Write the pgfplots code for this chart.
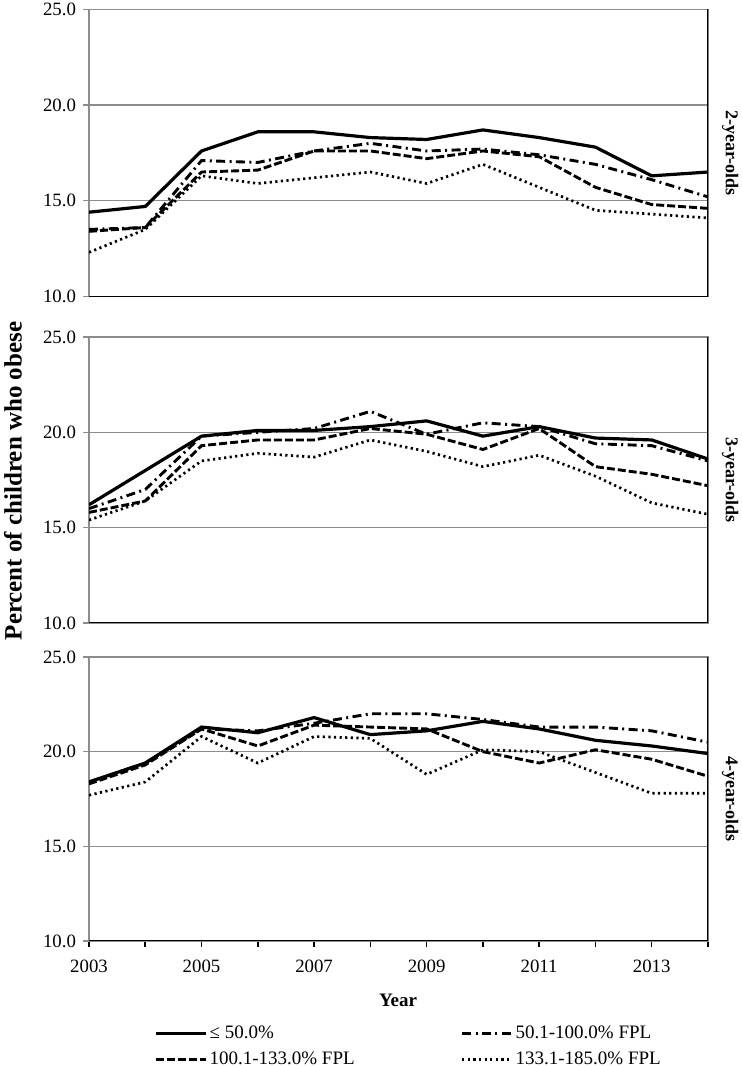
\documentclass[border=0pt]{standalone}
\usepackage{fontspec}
\setmainfont{Liberation Serif}
\usepackage{pgfplots}
\usepackage{pgfplotstable}
\pgfplotsset{compat=1.18}

\pgfplotstableread{
year a b c d
2003 14.4 13.5 13.4 12.3
2004 14.7 13.6 13.6 13.5
2005 17.6 17.1 16.5 16.3
2006 18.6 17.0 16.6 15.9
2007 18.6 17.6 17.6 16.2
2008 18.3 18.0 17.6 16.5
2009 18.2 17.6 17.2 15.9
2010 18.7 17.7 17.6 16.9
2011 18.3 17.4 17.3 15.7
2012 17.8 16.9 15.7 14.5
2013 16.3 16.1 14.8 14.3
2014 16.5 15.2 14.6 14.1
}\twoyr

\pgfplotstableread{
year a b c d
2003 16.2 16.0 15.8 15.4
2004 18.0 17.0 16.4 16.4
2005 19.8 19.8 19.3 18.5
2006 20.1 20.0 19.6 18.9
2007 20.1 20.2 19.6 18.7
2008 20.3 21.1 20.2 19.6
2009 20.6 19.9 19.9 19.0
2010 19.8 20.5 19.1 18.2
2011 20.3 20.3 20.2 18.8
2012 19.7 19.4 18.2 17.7
2013 19.6 19.3 17.8 16.3
2014 18.6 18.5 17.2 15.7
}\threeyr

\pgfplotstableread{
year a b c d
2003 18.4 18.4 18.3 17.7
2004 19.4 19.4 19.3 18.4
2005 21.3 21.2 21.2 20.8
2006 21.0 21.1 20.3 19.4
2007 21.8 21.5 21.4 20.8
2008 20.9 22.0 21.3 20.7
2009 21.1 22.0 21.2 18.8
2010 21.6 21.7 20.0 20.1
2011 21.2 21.3 19.4 20.0
2012 20.6 21.3 20.1 18.9
2013 20.3 21.1 19.6 17.8
2014 19.9 20.5 18.7 17.8
}\fouryr

\definecolor{gridgray}{HTML}{8C8C8C}

\tikzset{
  s1/.style={black, line width=1.6pt},
  s2/.style={black, line width=1.45pt, dash pattern=on 4.5pt off 2.2pt on 1pt off 2.2pt},
  s3/.style={black, line width=1.45pt, dash pattern=on 4pt off 1.5pt},
  s4/.style={black, line width=1.35pt, dash pattern=on 1.1pt off 1.7pt},
  sidelab/.style={rotate=-90, anchor=south, inner sep=0pt, outer sep=7pt,
    font=\bfseries\fontsize{9}{11}\selectfont},
}

\pgfplotsset{
  panel/.style={
    scale only axis, width=309.5pt,
    xmin=2003, xmax=2014, ymin=10, ymax=25,
    ytick={10,15,20,25},
    ymajorgrids, grid style={gridgray, line width=0.7pt},
    ytick pos=left, xtick pos=bottom,
    tick align=outside, major tick length=3pt,
    y tick style={gridgray, line width=0.7pt},
    x tick style={black, line width=0.8pt},
    axis line style={gridgray, line width=0.7pt},
    yticklabel style={/pgf/number format/fixed, /pgf/number format/fixed zerofill,
      /pgf/number format/precision=1, /pgf/number format/assume math mode=true,
      font=\fontsize{9.4}{11}\selectfont},
    xticklabel style={/pgf/number format/set thousands separator={},
      /pgf/number format/assume math mode=true, yshift=-3pt,
      font=\fontsize{9.4}{11}\selectfont},
    legend image code/.code={\draw[##1] (0pt,0pt) -- (25pt,0pt);},
  },
}

\newcommand{\frameBR}{\draw[black, line width=0.8pt] (rel axis cs:0,0) -- (rel axis cs:1,0) -- (rel axis cs:1,1);}

\begin{document}
\begin{tikzpicture}
\path[use as bounding box] (0,0) rectangle (371pt,533pt);

% 2-year-olds
\begin{axis}[panel, height=143.5pt, at={(44.5pt,384.8pt)}, anchor=south west, xtick=\empty]
\addplot[s1] table[x=year,y=a] {\twoyr};
\addplot[s2] table[x=year,y=b] {\twoyr};
\addplot[s3] table[x=year,y=c] {\twoyr};
\addplot[s4] table[x=year,y=d] {\twoyr};
\frameBR
\end{axis}
\node[sidelab] at (354pt,456.5pt) {2-year-olds};

% 3-year-olds
\begin{axis}[panel, height=143pt, at={(44.5pt,221.5pt)}, anchor=south west, xtick=\empty]
\addplot[s1] table[x=year,y=a] {\threeyr};
\addplot[s2] table[x=year,y=b] {\threeyr};
\addplot[s3] table[x=year,y=c] {\threeyr};
\addplot[s4] table[x=year,y=d] {\threeyr};
\frameBR
\end{axis}
\node[sidelab] at (354pt,293pt) {3-year-olds};

% 4-year-olds
\begin{axis}[panel, height=142pt, at={(44.5pt,62.5pt)}, anchor=south west,
  xtick={2003,2004,...,2014},
  xticklabels={2003,,2005,,2007,,2009,,2011,,2013,},
  legend columns=2,
  legend cell align=left,
  legend style={at={(axis description cs:0.105,-0.285)}, anchor=north west,
    draw=none, fill=none, inner sep=0pt, row sep=2pt,
    font=\fontsize{9.5}{11}\selectfont,
    nodes={inner sep=1pt, text height=7pt, text depth=2pt},
    /tikz/column 2/.style={column sep=52pt}},
]
\addplot[s1] table[x=year,y=a] {\fouryr};
\addlegendentry{≤ 50.0\%}
\addplot[s2] table[x=year,y=b] {\fouryr};
\addlegendentry{50.1-100.0\% FPL}
\addplot[s3] table[x=year,y=c] {\fouryr};
\addlegendentry{100.1-133.0\% FPL}
\addplot[s4] table[x=year,y=d] {\fouryr};
\addlegendentry{133.1-185.0\% FPL}
\frameBR
\end{axis}
\node[sidelab] at (354pt,133.5pt) {4-year-olds};

\node[font=\bfseries\fontsize{9.5}{11}\selectfont] at (199pt,33pt) {Year};
\node[rotate=90, font=\bfseries\fontsize{12.5}{14}\selectfont] at (6.5pt,292.5pt) {Percent of children who obese};
\end{tikzpicture}
\end{document}
